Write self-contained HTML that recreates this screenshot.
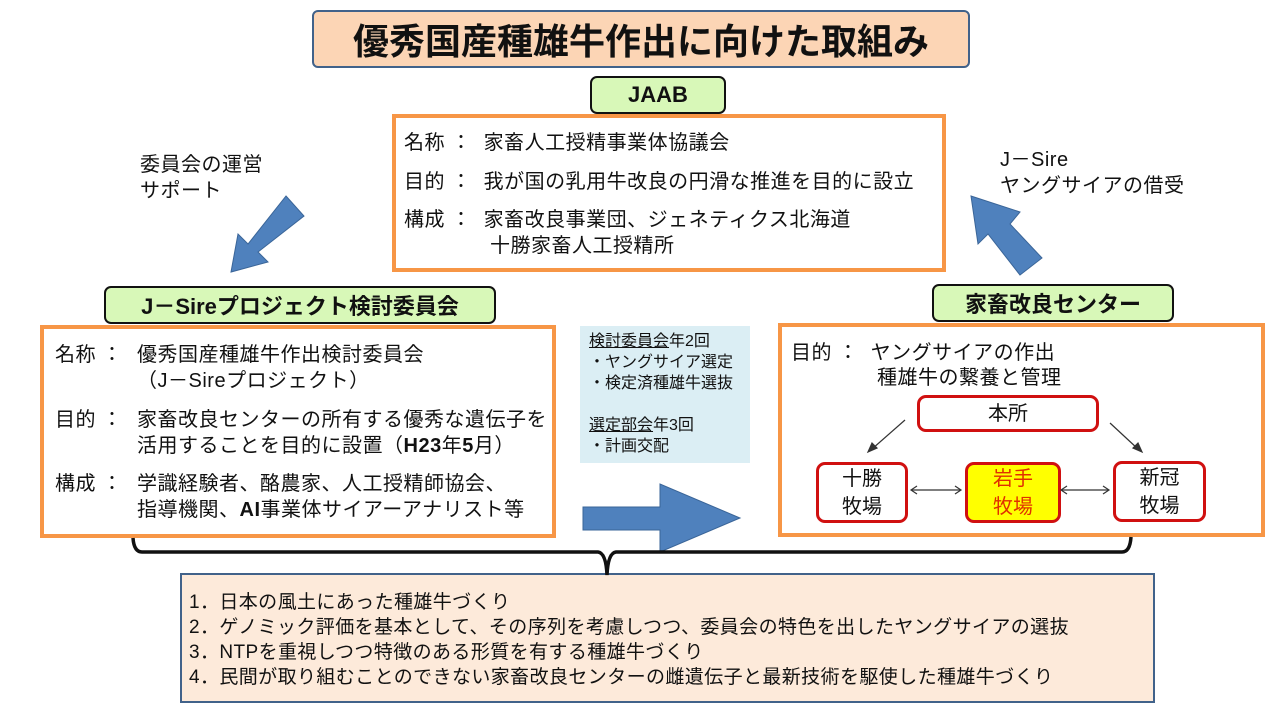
<!DOCTYPE html>
<html><head><meta charset="utf-8"><style>
body{margin:0;width:1280px;height:720px;background:#fff;position:relative;overflow:hidden;font-family:"Liberation Sans","Noto Sans CJK JP",sans-serif;color:#111}
.a{position:absolute;box-sizing:border-box}
.t{position:absolute;white-space:nowrap;line-height:26px}
.g{background:#d8f8b8;border:2.5px solid #111;border-radius:7px;font-weight:bold;font-size:22px;display:flex;align-items:center;justify-content:center}
.o{border:4px solid #f79646;background:#fff}
.r{border:3px solid #d01010;border-radius:9px;background:#fff;display:flex;align-items:center;justify-content:center;text-align:center;font-size:20px;line-height:28px}
.f{font-size:20px;letter-spacing:0.5px}
</style></head><body>
<div class="a" style="left:312px;top:10px;width:658px;height:58px;background:#fcd5b5;border:2px solid #41628a;border-radius:6px;display:flex;align-items:center;justify-content:center;font-size:36px;font-weight:bold">優秀国産種雄牛作出に向けた取組み</div>
<div class="a g" style="left:590px;top:76px;width:136px;height:38px">JAAB</div>
<div class="a o" style="left:392px;top:114px;width:554px;height:158px"></div>
<div class="t f" style="left:404px;top:130px">名称 ：&nbsp; 家畜人工授精事業体協議会</div>
<div class="t f" style="left:404px;top:169px">目的 ：&nbsp; 我が国の乳用牛改良の円滑な推進を目的に設立</div>
<div class="t f" style="left:404px;top:207px">構成 ：&nbsp; 家畜改良事業団、ジェネティクス北海道</div>
<div class="t f" style="left:490px;top:233px">十勝家畜人工授精所</div>
<div class="t f" style="left:140px;top:152px">委員会の運営<br>サポート</div>
<div class="t f" style="left:1000px;top:147px">J－Sire<br>ヤングサイアの借受</div>
<div class="a g" style="left:104px;top:286px;width:392px;height:38px">J－Sireプロジェクト検討委員会</div>
<div class="a o" style="left:40px;top:325px;width:516px;height:213px"></div>
<div class="t f" style="left:55px;top:342px">名称 ：</div>
<div class="t f" style="left:137px;top:342px">優秀国産種雄牛作出検討委員会<br>（J－Sireプロジェクト）</div>
<div class="t f" style="left:55px;top:407px">目的 ：</div>
<div class="t f" style="left:137px;top:407px">家畜改良センターの所有する優秀な遺伝子を<br>活用することを目的に設置（<b>H23</b>年<b>5</b>月）</div>
<div class="t f" style="left:55px;top:471px">構成 ：</div>
<div class="t f" style="left:137px;top:471px">学識経験者、酪農家、人工授精師協会、<br>指導機関、<b>AI</b>事業体サイアーアナリスト等</div>
<div class="a" style="left:580px;top:326px;width:170px;height:137px;background:#dbeef4"></div>
<div class="t" style="left:589px;top:331px;font-size:16px;line-height:21px"><u>検討委員会</u>年2回<br>・ヤングサイア選定<br>・検定済種雄牛選抜<br><br><u>選定部会</u>年3回<br>・計画交配</div>
<div class="a g" style="left:932px;top:284px;width:242px;height:38px">家畜改良センター</div>
<div class="a o" style="left:778px;top:323px;width:487px;height:214px"></div>
<div class="t f" style="left:791px;top:340px">目的 ：&nbsp; ヤングサイアの作出</div>
<div class="t f" style="left:877px;top:365px">種雄牛の繋養と管理</div>
<div class="a r" style="left:917px;top:395px;width:182px;height:37px">本所</div>
<div class="a r" style="left:816px;top:462px;width:92px;height:61px">十勝<br>牧場</div>
<div class="a r" style="left:965px;top:462px;width:96px;height:61px;background:#ffff00;color:#e03000">岩手<br>牧場</div>
<div class="a r" style="left:1113px;top:461px;width:93px;height:61px">新冠<br>牧場</div>
<div class="a" style="left:180px;top:573px;width:975px;height:130px;background:#fdeada;border:2px solid #41628a"></div>
<div class="t" style="left:189px;top:590px;font-size:19px;letter-spacing:0.4px;line-height:25px">1．日本の風土にあった種雄牛づくり<br>2．ゲノミック評価を基本として、その序列を考慮しつつ、委員会の特色を出したヤングサイアの選抜<br>3．NTPを重視しつつ特徴のある形質を有する種雄牛づくり<br>4．民間が取り組むことのできない家畜改良センターの雌遺伝子と最新技術を駆使した種雄牛づくり</div>
<svg class="a" style="left:0;top:0" width="1280" height="720">
<polygon points="286,196 304,216 258,252 268,262 231,272 238,234 248,244" fill="#4f81bd" stroke="#3a6598" stroke-width="1"/>
<polygon points="1020,275 1042,258 1010,224 1020,212 971,196 978,244 988,234" fill="#4f81bd" stroke="#3a6598" stroke-width="1"/>
<polygon points="583,507 660,507 660,484 740,518 660,552 660,530 583,530" fill="#4f81bd" stroke="#3a6598" stroke-width="1"/>
<path d="M133,538 Q134,552 142,552 L598,552 Q606,553 607,575 Q608,553 616,552 L1122,552 Q1130,552 1131,537" fill="none" stroke="#111" stroke-width="3.5"/>
<g stroke="#333" stroke-width="1.2" fill="#333">
<line x1="905" y1="420" x2="872" y2="449"/><polygon points="868,452 872,443 877,448"/>
<line x1="1110" y1="423" x2="1138" y2="449"/><polygon points="1142,452 1133,448 1138,443"/>
<line x1="912" y1="490" x2="960" y2="490"/><polyline points="917,486 911,490 917,494" fill="none"/><polyline points="955,486 961,490 955,494" fill="none"/>
<line x1="1062" y1="490" x2="1108" y2="490"/><polyline points="1067,486 1061,490 1067,494" fill="none"/><polyline points="1103,486 1109,490 1103,494" fill="none"/>
</g>
</svg>
</body></html>
